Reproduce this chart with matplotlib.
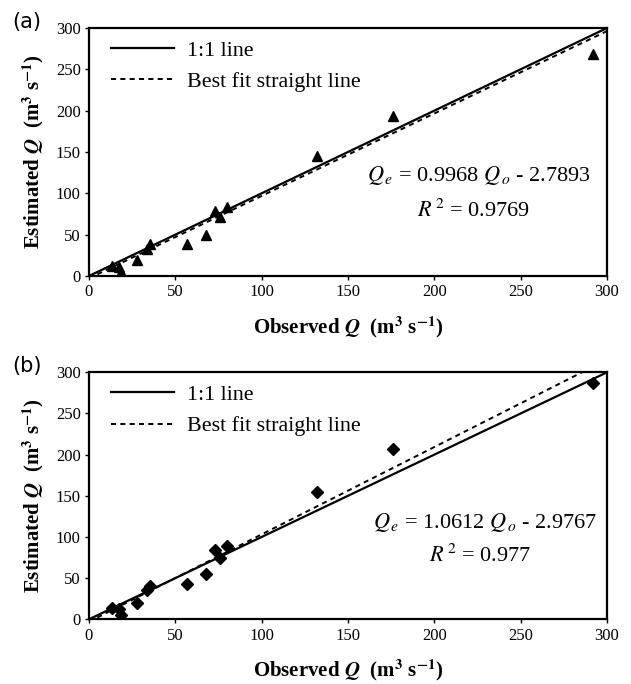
import numpy as np
import matplotlib
matplotlib.use("Agg")
import matplotlib.pyplot as plt

plt.rcParams['font.family'] = ['Liberation Serif', 'DejaVu Serif']
plt.rcParams['mathtext.fontset'] = 'stix'

# observed discharge (same gauges in both panels)
observed = [13.3, 17.2, 18.5, 27.8, 33.5, 35.5, 56.8, 67.6, 73.0, 75.9, 79.7, 132.2, 176.0, 291.8]
# estimated discharge, panel (a) and panel (b)
estimated_a = [12, 11, 5, 19, 33, 39, 39, 50, 79, 71, 83, 145, 194, 269]
estimated_b = [13.4, 13, 5.3, 19.8, 36, 40.5, 43, 54.7, 84, 75, 89.5, 155, 207, 286.7]

fit_a = (0.9968, -2.7893, 0.9769)
fit_b = (1.0612, -2.9767, 0.977)
panels = ['(a)', '(b)']

fig = plt.figure(figsize=(6.31, 6.84), dpi=100)
ax_a = fig.add_axes([0.141, 0.5965, 0.821, 0.3626])
ax_b = fig.add_axes([0.141, 0.0946, 0.821, 0.3611])


def draw_panel(ax, est, fit, marker, ms, tag, r2_txt, eq_pos):
    slope, icpt, r2 = fit
    xx = np.array([0, 300])
    ax.plot(xx, xx, color='black', lw=1.6, label='1:1 line')
    ax.plot(xx, slope * xx + icpt, color='black', lw=1.4, ls=(0, (2.6, 2.2)),
            label='Best fit straight line')
    ax.plot(observed, est, ls='none', marker=marker, color='black', ms=ms)
    ax.set_xlim(0, 300)
    ax.set_ylim(0, 300)
    ax.set_xticks(range(0, 301, 50))
    ax.set_yticks(range(0, 301, 50))
    ax.tick_params(direction='out', length=3, width=1, labelsize=12, pad=3,
                   labelfontfamily='Liberation Serif')
    for s in ax.spines.values():
        s.set_linewidth(1.6)
    ax.set_xlabel(r'Observed $\mathbfit{Q}$  (m$^{\mathbf{3}}$ s$^{\mathbf{-1}}$)',
                  fontsize=15, fontweight='bold', labelpad=10)
    ax.set_ylabel(r'Estimated $\mathbfit{Q}$  (m$^{\mathbf{3}}$ s$^{\mathbf{-1}}$)',
                  fontsize=15, fontweight='bold', labelpad=7)
    ax.legend(loc='upper left', bbox_to_anchor=(0.043, 0.950), frameon=False,
              fontsize=15.8, handlelength=2.85, handletextpad=0.6,
              labelspacing=0.5, borderaxespad=0, borderpad=0)
    sign = '-' if icpt < 0 else '+'
    eq = r'$Q_{\,e}$ = %.4f $Q_{\,o}$ %s %.4f' % (slope, sign, abs(icpt))
    ax.text(eq_pos[0], eq_pos[1], eq, transform=ax.transAxes, ha='center',
            va='center', fontsize=16)
    ax.text(eq_pos[0] - 0.01, eq_pos[2], r'$R^{\,2}$ = ' + r2_txt,
            transform=ax.transAxes, ha='center', va='center', fontsize=16)
    ax.text(-0.148, 1.025, tag, transform=ax.transAxes, ha='left', va='center',
            fontsize=15, family='DejaVu Sans')


draw_panel(ax_a, estimated_a, fit_a, '^', 7.5, panels[0], '0.9769', (0.752, 0.405, 0.265))
draw_panel(ax_b, estimated_b, fit_b, 'D', 6, panels[1], '0.977', (0.765, 0.393, 0.258))

fig.savefig('out.png', dpi=100)
